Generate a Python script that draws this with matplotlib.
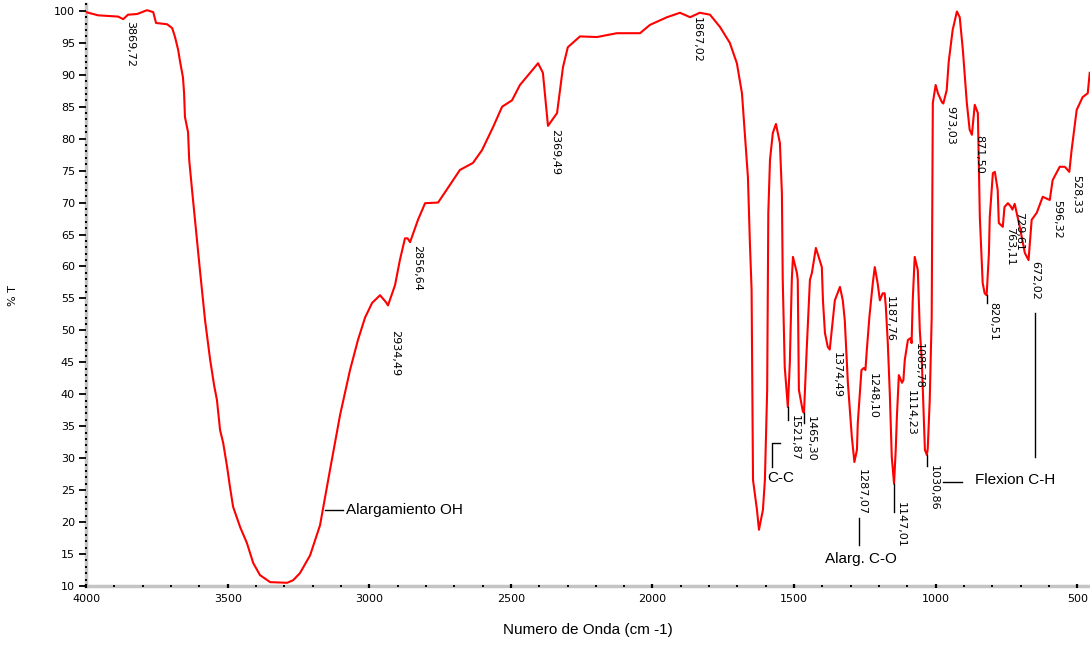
import matplotlib.pyplot as plt
from matplotlib.ticker import MultipleLocator

# IR spectrum (wavenumber in cm-1, transmittance in %)
wavenumber = [
    4000, 3958, 3887, 3869, 3852, 3820, 3785, 3763, 3753, 3714, 3696, 3686,
    3675, 3668, 3658, 3654, 3651, 3640, 3636, 3626, 3612, 3598, 3580, 3562,
    3548, 3538, 3527, 3516, 3502, 3492, 3481, 3456, 3432, 3410, 3386, 3350,
    3290, 3269, 3245, 3209, 3174, 3139, 3103, 3068, 3040, 3015, 2990, 2962,
    2941, 2934, 2909, 2892, 2874, 2865, 2856, 2828, 2803, 2757, 2680, 2634,
    2602, 2563, 2531, 2496, 2468, 2404, 2387, 2369, 2337, 2316, 2299, 2256,
    2196, 2161, 2126, 2044, 2009, 1949, 1903, 1867, 1833, 1797, 1762, 1727,
    1702, 1684, 1674, 1663, 1656, 1650, 1647, 1645, 1631, 1624, 1610, 1603,
    1595, 1591, 1585, 1575, 1564, 1550, 1543, 1540, 1533, 1522, 1515, 1508,
    1504, 1490, 1487, 1483, 1469, 1465, 1455, 1444, 1437, 1423, 1402, 1398,
    1391, 1381, 1374, 1356, 1338, 1328, 1321, 1310, 1296, 1287, 1278, 1275,
    1262, 1254, 1248, 1243, 1234, 1222, 1215, 1205, 1197, 1187, 1180, 1176,
    1169, 1162, 1155, 1147, 1141, 1137, 1130, 1119, 1114, 1109, 1098, 1088,
    1085, 1081, 1074, 1063, 1056, 1049, 1038, 1031, 1028, 1021, 1014, 1010,
    1000, 992, 978, 973, 961, 954, 940, 925, 915, 904, 890, 880,
    872, 862, 851, 844, 834, 827, 820, 812, 809, 798, 791, 781,
    777, 763, 757, 745, 735, 729, 721, 714, 703, 685, 672, 661,
    643, 622, 597, 587, 562, 544, 528, 520, 502, 481, 463, 456,
]
transmittance = [
    99.8, 99.3, 99.1, 98.7, 99.4, 99.5, 100.1, 99.8, 98.1, 97.9, 97.3, 95.9,
    93.9, 92.0, 89.6, 87.1, 83.4, 81.0, 76.7, 72.0, 65.7, 59.4, 51.6, 45.4,
    41.4, 39.1, 34.4, 32.4, 28.6, 25.5, 22.4, 19.2, 16.7, 13.6, 11.7, 10.6,
    10.5, 10.9, 12.0, 14.8, 19.5, 28.1, 36.8, 43.8, 48.5, 52.0, 54.3, 55.5,
    54.4, 53.9, 57.1, 61.0, 64.4, 64.4, 63.8, 67.3, 69.9, 70.0, 75.1, 76.2,
    78.2, 81.8, 85.0, 86.0, 88.4, 91.8, 90.3, 82.0, 84.0, 91.2, 94.3, 96.0,
    95.9, 96.2, 96.5, 96.5, 97.8, 99.0, 99.7, 99.0, 99.7, 99.4, 97.5, 95.0,
    91.8, 87.1, 80.9, 74.0, 63.7, 56.3, 39.6, 26.6, 21.9, 18.8, 21.9, 26.6,
    40.7, 68.4, 76.7, 80.9, 82.3, 79.3, 71.5, 57.9, 44.3, 38.0, 44.9, 57.9,
    61.5, 59.0, 57.9, 40.7, 37.3, 37.1, 47.4, 57.9, 59.0, 62.9, 59.9, 54.7,
    49.6, 47.4, 47.0, 54.7, 56.8, 54.7, 51.6, 41.8, 33.3, 29.4, 31.3, 35.5,
    43.8, 44.1, 43.8, 47.0, 52.1, 57.4, 59.9, 57.4, 54.7, 55.8, 55.8, 53.7,
    48.0, 40.2, 30.2, 26.0, 31.3, 36.4, 43.0, 41.8, 42.2, 45.4, 48.5, 48.8,
    48.0, 54.7, 61.5, 59.4, 50.0, 45.4, 31.3, 30.5, 31.5, 39.0, 52.1, 85.6,
    88.4, 87.1, 85.7, 85.5, 87.6, 92.0, 97.0, 99.9, 99.0, 93.9, 85.6, 81.4,
    80.6, 85.3, 84.0, 67.7, 57.4, 55.8, 55.5, 62.0, 67.7, 74.6, 74.8, 72.0,
    66.8, 66.2, 69.3, 69.9, 69.4, 68.9, 69.8, 68.4, 66.2, 62.1, 61.0, 67.3,
    68.4, 70.9, 70.4, 73.5, 75.6, 75.6, 74.8, 78.2, 84.5, 86.5, 87.1, 90.3,
]

# labelled peaks: (wavenumber, transmittance, label)
peak_wn = [3869, 2934, 2856, 2369, 1867, 1522, 1465, 1374, 1287, 1248,
           1187, 1147, 1114, 1085, 1031, 973, 872, 820, 763, 729, 672, 597, 528]
peak_t = [98.7, 53.9, 63.8, 82.0, 99.0, 38.0, 37.1, 47.0, 29.4, 43.8,
          55.8, 26.0, 42.2, 48.0, 30.5, 85.5, 80.6, 55.5, 66.2, 68.9, 61.0, 70.4, 74.8]
peak_labels = ["3869,72", "2934,49", "2856,64", "2369,49", "1867,02", "1521,87",
               "1465,30", "1374,49", "1287,07", "1248,10", "1187,76", "1147,01",
               "1114,23", "1085,78", "1030,86", "973,03", "871,50", "820,51",
               "763,11", "729,61", "672,02", "596,32", "528,33"]
# how far below the peak each label starts (points)
peak_drop = [1, 18, 2, 2, 0, 6, 2, 2, 5, 2, 2, 13, 7, 0, 7, 2, 0, 5, 0, 2, 1, 0, 2]

fig = plt.figure(figsize=(10.9, 6.45), dpi=100)
ax = fig.add_axes([0.079, 0.0915, 0.921, 0.9016])

ax.plot(wavenumber, transmittance, color="#ff0000", linewidth=1.5)

ax.set_xlim(4000, 455)
ax.set_ylim(10, 101)

for wn, t, lab, drop in zip(peak_wn, peak_t, peak_labels, peak_drop):
    ax.annotate(lab, xy=(wn, t), xytext=(1.5, -drop), textcoords="offset points",
                rotation=270, ha="left", va="top", fontsize=8,
                family="DejaVu Sans")

# short leader ticks below a few peaks
for wn, t0, t1 in [(1522, 38.0, 36.0), (1465, 37.1, 35.5), (1147, 26.0, 21.5),
                   (1031, 30.5, 28.8), (820, 55.5, 54.3)]:
    ax.plot([wn, wn], [t0, t1], color="black", linewidth=1)

# band assignments
afont = dict(fontsize=11, family="Liberation Sans", color="black")
ax.plot([3156, 3093], [21.9, 21.9], color="black", linewidth=1)
ax.text(3082, 21.9, "Alargamiento OH", ha="left", va="center", **afont)

ax.plot([1550, 1578, 1578], [32.4, 32.4, 28.6], color="black", linewidth=1)
ax.text(1594, 26.9, "C-C", ha="left", va="center", **afont)

ax.plot([1271, 1271], [20.6, 16.4], color="black", linewidth=1)
ax.text(1264, 14.2, "Alarg. C-O", ha="center", va="center", **afont)

ax.plot([975, 908], [26.3, 26.3], color="black", linewidth=1)
ax.plot([650, 650], [52.7, 30.2], color="black", linewidth=1)
ax.text(862, 26.6, "Flexion C-H", ha="left", va="center", **afont)

# axes look
for side in ["top", "right"]:
    ax.spines[side].set_visible(False)
for side in ["left", "bottom"]:
    ax.spines[side].set_color("#c4c4c4")
    ax.spines[side].set_linewidth(2.5)
    ax.spines[side].set_zorder(1)
ax.xaxis.set_zorder(3)
ax.yaxis.set_zorder(3)

ax.xaxis.set_major_locator(MultipleLocator(500))
ax.xaxis.set_minor_locator(MultipleLocator(100))
ax.yaxis.set_major_locator(MultipleLocator(5))
ax.yaxis.set_minor_locator(MultipleLocator(1))
ax.tick_params(axis="y", which="major", direction="out", length=5, width=1.3,
               color="black", labelsize=8, pad=3)
ax.tick_params(axis="x", which="major", direction="inout", length=3, width=1.6,
               color="black", labelsize=8, pad=4)
ax.tick_params(which="minor", direction="inout", length=1.6, width=1.4,
               color="black")

ax.set_xlabel("Numero de Onda (cm -1)", fontsize=11, family="Liberation Sans",
              labelpad=14)
ax.set_ylabel("% T", fontsize=8)
ax.yaxis.set_label_coords(-0.068, 0.5)

fig.savefig("out.png", dpi=100)
